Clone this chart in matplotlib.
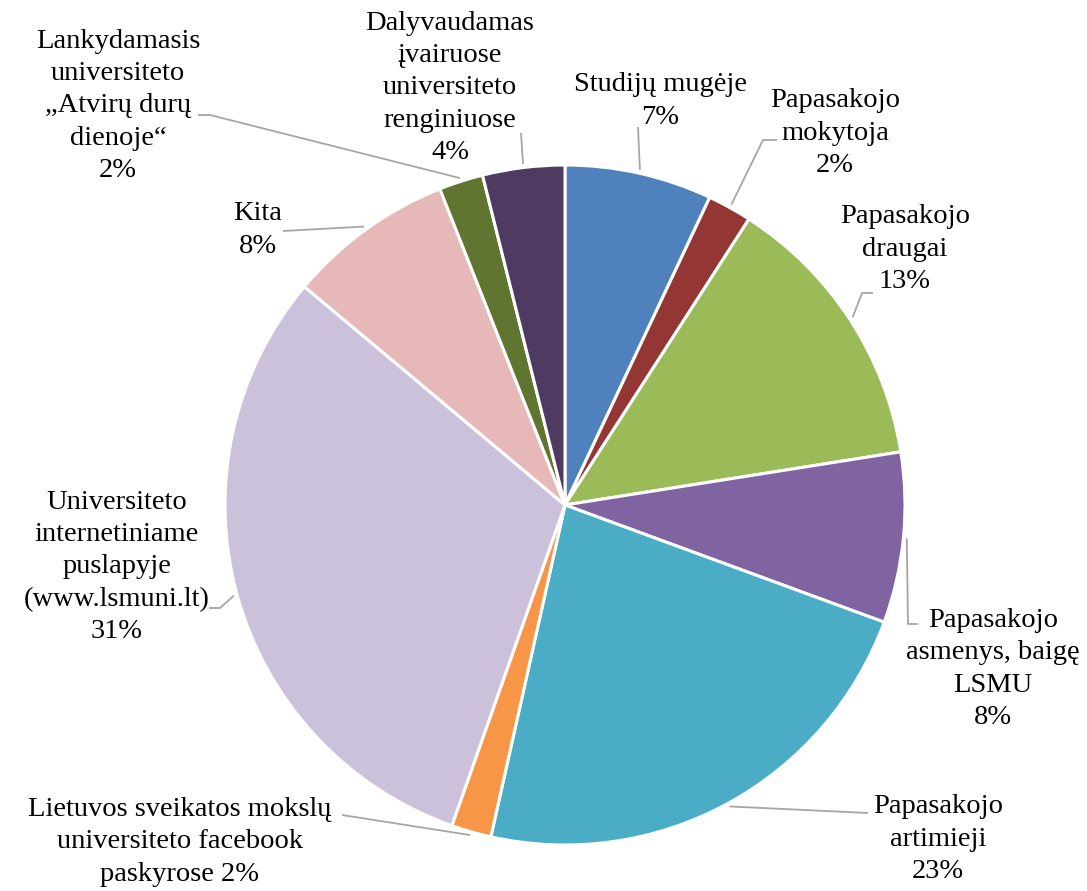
import numpy as np
import matplotlib.pyplot as plt

# survey answers, clockwise from 12 o'clock
names = ['Studijų mugėje', 'Papasakojo\nmokytoja', 'Papasakojo\ndraugai',
         'Papasakojo\nasmenys, baigę\nLSMU', 'Papasakojo\nartimieji',
         'Lietuvos sveikatos mokslų\nuniversiteto facebook\npaskyrose',
         'Universiteto\ninternetiniame\npuslapyje\n(www.lsmuni.lt)', 'Kita',
         'Lankydamasis\nuniversiteto\n„Atvirų durų\ndienoje“',
         'Dalyvaudamas\nįvairuose\nuniversiteto\nrenginiuose']
values = [7.0, 2.1, 13.4, 8.1, 22.9, 1.9, 30.7, 7.9, 2.1, 3.9]
pct_sep = ['\n', '\n', '\n', '\n', '\n', ' ', '\n', '\n', '\n', '\n']
colors = ['#4F81BD', '#943634', '#9BBB59', '#8064A2', '#4BACC6',
          '#F79646', '#CCC1DA', '#E6B9B8', '#5F7530', '#4F3B62']

W, H = 1087, 891
def P(x, y):
    return (x, H - y)

# label block centres and leader elbows (pixels)
label_xy = [(660, 101), (835, 133), (905, 249), (993, 669), (938, 839),
            (180, 842), (117, 567), (258, 230), (118, 106), (450, 88)]
leader_pts = [[(638, 127)], [(763, 140), (777, 140)], [(862, 293), (873, 293)],
              [(908, 624), (918, 624)], [(868, 813)], [(342, 815)],
              [(220, 608), (209, 608)], [(283, 231)], [(210, 115), (198, 115)],
              [(521, 133)]]

plt.rcParams['font.family'] = ['Liberation Serif', 'DejaVu Serif']

fig = plt.figure(figsize=(W / 100, H / 100), dpi=100)
ax = fig.add_axes([0, 0, 1, 1])
cx, cy = P(565, 505)
R = 340
wedges, _ = ax.pie(values, colors=colors, startangle=90, counterclock=False,
                   center=(cx, cy), radius=R,
                   wedgeprops=dict(edgecolor='white', linewidth=2.2))
ax.set_xlim(0, W)
ax.set_ylim(0, H)
ax.set_aspect('equal')
ax.axis('off')

total = sum(values)
for i, w in enumerate(wedges):
    mid = np.radians((w.theta1 + w.theta2) / 2)
    start = (cx + R * 1.01 * np.cos(mid), cy + R * 1.01 * np.sin(mid))
    pts = [start] + [P(*p) for p in leader_pts[i]]
    xs, ys = zip(*pts)
    ax.plot(xs, ys, color='#A6A6A6', lw=1.3, solid_capstyle='butt')
    pct = '%d%%' % round(values[i] / total * 100)
    ax.text(*P(*label_xy[i]), names[i] + pct_sep[i] + pct, ha='center',
            va='center', fontsize=20.5, linespacing=1.38, color='black')

fig.savefig('out.png', dpi=100)
